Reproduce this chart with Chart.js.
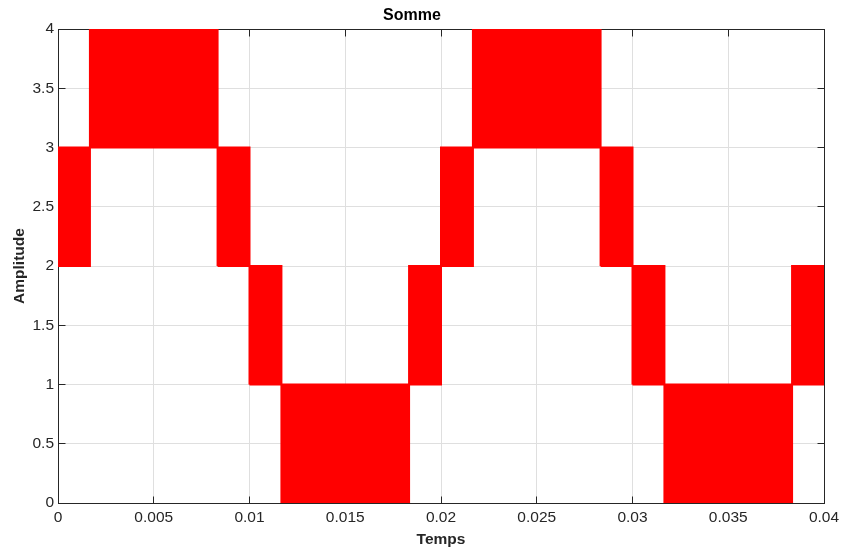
<!DOCTYPE html>
<html>
<head>
<meta charset="utf-8">
<title>Somme</title>
<script src="https://cdn.jsdelivr.net/npm/chart.js@4/dist/chart.umd.min.js"></script>
<style>
  html, body { margin: 0; padding: 0; background: #ffffff; }
  #wrap { width: 843px; height: 549px; }
</style>
</head>
<body>
<div id="wrap"><canvas id="c" width="843" height="549"></canvas></div>
<script>
// Each segment of the summed signal: time span and the two levels it switches between
const segStart = [0, 0.001667, 0.008333, 0.01, 0.011667, 0.018333, 0.02, 0.021667, 0.028333, 0.03, 0.031667, 0.038333];
const segEnd   = [0.001667, 0.008333, 0.01, 0.011667, 0.018333, 0.02, 0.021667, 0.028333, 0.03, 0.031667, 0.038333, 0.04];
const segLow   = [2, 3, 2, 1, 0, 1, 2, 3, 2, 1, 0, 1];
const segHigh  = [3, 4, 3, 2, 1, 2, 3, 4, 3, 2, 1, 2];

// Axis ticks
const xTicks = [0, 0.005, 0.01, 0.015, 0.02, 0.025, 0.03, 0.035, 0.04];
const yTicks = [0, 0.5, 1, 1.5, 2, 2.5, 3, 3.5, 4];

const RED = '#ff0000';
const AX = '#262626';

// One closed band per segment, filled between its low and high level
const datasets = segStart.map((s, i) => ({
  data: [
    { x: s, y: segLow[i] },
    { x: s, y: segHigh[i] },
    { x: segEnd[i], y: segHigh[i] },
    { x: segEnd[i], y: segLow[i] },
    { x: s, y: segLow[i] }
  ],
  showLine: true,
  borderColor: RED,
  backgroundColor: RED,
  borderWidth: 2,
  borderJoinStyle: 'miter',
  pointRadius: 0,
  pointHoverRadius: 0,
  tension: 0,
  fill: 'shape'
}));

function align(p) { return Math.round(p - 0.5) + 0.5; }

// Box outline and inward tick marks, drawn under the data
const axesBox = {
  id: 'axesBox',
  beforeDatasetsDraw(chart) {
    const { ctx, chartArea, scales } = chart;
    const { left, right, top, bottom } = chartArea;
    const L = align(left), R = align(right), T = align(top), B = align(bottom);
    ctx.save();
    ctx.strokeStyle = AX;
    ctx.lineWidth = 1;
    ctx.beginPath();
    xTicks.forEach(v => {
      const px = align(scales.x.getPixelForValue(v));
      ctx.moveTo(px, B); ctx.lineTo(px, B - 7);
      ctx.moveTo(px, T); ctx.lineTo(px, T + 7);
    });
    yTicks.forEach(v => {
      const py = align(scales.y.getPixelForValue(v));
      ctx.moveTo(L, py); ctx.lineTo(L + 7, py);
      ctx.moveTo(R, py); ctx.lineTo(R - 7, py);
    });
    ctx.stroke();
    ctx.strokeRect(L, T, R - L, B - T);
    ctx.restore();
  }
};

const tickFont = { family: '"Liberation Sans", Arial, sans-serif', size: 15.5 };
const labelFont = { family: '"Liberation Sans", Arial, sans-serif', size: 15.5, weight: 'bold' };

new Chart(document.getElementById('c'), {
  type: 'scatter',
  data: { datasets },
  options: {
    responsive: false,
    devicePixelRatio: 1,
    animation: false,
    events: [],
    layout: { padding: { left: 0, right: 19, top: 0, bottom: 0 } },
    plugins: {
      legend: { display: false },
      tooltip: { enabled: false },
      title: {
        display: true,
        text: 'Somme',
        color: '#000000',
        font: { family: '"Liberation Sans", Arial, sans-serif', size: 16, weight: 'bold' },
        padding: { top: 6, bottom: 3.8 }
      }
    },
    scales: {
      x: {
        type: 'linear',
        min: 0,
        max: 0.04,
        afterFit(scale) {
          scale.height = 46;
          scale.paddingLeft = 0;
          scale.paddingRight = 0;
        },
        afterBuildTicks(scale) { scale.ticks = xTicks.map(v => ({ value: v })); },
        grid: { color: '#dfdfdf', lineWidth: 1, drawTicks: false },
        border: { display: false },
        ticks: {
          color: AX,
          font: tickFont,
          padding: 5,
          maxRotation: 0,
          autoSkip: false,
          callback: v => String(v)
        },
        title: {
          display: true,
          text: 'Temps',
          color: AX,
          font: labelFont,
          padding: { top: 0, bottom: 0 }
        }
      },
      y: {
        type: 'linear',
        min: 0,
        max: 4,
        afterFit(scale) {
          scale.width = 58;
          scale.paddingTop = 0;
          scale.paddingBottom = 0;
        },
        afterBuildTicks(scale) { scale.ticks = yTicks.map(v => ({ value: v })); },
        grid: { color: '#dfdfdf', lineWidth: 1, drawTicks: false },
        border: { display: false },
        ticks: {
          color: AX,
          font: tickFont,
          padding: 4,
          autoSkip: false,
          callback: v => String(v)
        },
        title: {
          display: true,
          text: 'Amplitude',
          color: AX,
          font: labelFont,
          padding: { top: 10, bottom: 0 }
        }
      }
    }
  },
  plugins: [axesBox]
});
</script>
</body>
</html>
